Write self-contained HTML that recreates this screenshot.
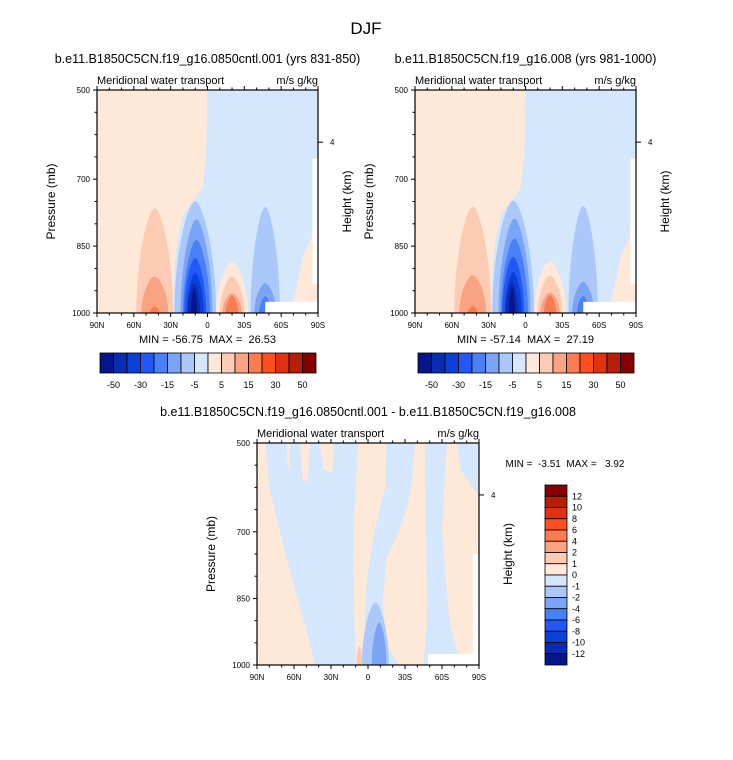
<!DOCTYPE html>
<html><head><meta charset="utf-8"><style>
body{margin:0;background:#fff;}
svg{display:block;font-family:"Liberation Sans",sans-serif;}
svg text{white-space:pre;}
</style></head><body>
<svg id="fig" width="733" height="760" viewBox="0 0 733 760">
<text x="366" y="34" font-size="17" text-anchor="middle">DJF</text>
</svg>
<script>
// ---- data ----
const colors = ['#06168a','#0a2cb0','#0a40d8','#2358f8','#4a80f5','#7ba4f6','#abc8fa','#d5e7fc','#fee8d8','#fdcbb4','#f9a383','#fb7c4f','#fc4e1f','#e03212','#b51f08','#850000'];
const xTickLats = [90,60,30,0,-30,-60,-90];
const xTickLabels = ['90N','60N','30N','0','30S','60S','90S'];
const yTickPs = [500,700,850,1000];
const cbLabelsTop = ['-50','-30','-15','-5','5','15','30','50'];
const cbLabelsDiff = ['12','10','8','6','4','2','1','0','-1','-2','-4','-6','-8','-10','-12'];
const fullOrangeBg = [[90,500],[0,500],[1,650],[4,720],[12,750],[20,780],[24,830],[27,900],[28,1000],[90,1000]];
const fullOrangeRight = [[-90,650],[-88,650],[-85,830],[-78,870],[-72,950],[-67,1000],[-90,1000]];
// domes: [centerLat, topPressure, halfWidthDeg, level]
const domesA = [[43,765,15,9],[43,918,11,10],[43,985,4,11],
 [10,750,17,6],[9,790,13,5],[9,836,11,4],[10,877,9,3],[10,911,7,2],[11,933,5,1],[11,945,2.5,0],
 [-20,885,13,8],[-20,918,10,9],[-20,956,8,10],[-20,962,5,11],
 [-47,762,12,6],[-47,933,9,5],[-47,963,5,4]];
const domesB = [[43,762,15,9],[43,915,11,10],[43,984,4,11],
 [10,748,17,6],[9,788,13,5],[9,833,11,4],[10,874,9,3],[10,908,7,2],[11,930,5,1],[11,942,2.5,0],
 [-20,883,13,8],[-20,916,10,9],[-20,954,8,10],[-20,960,5,11],
 [-47,760,12,6],[-47,930,9,5],[-47,962,5,4]];
const diffOrange = [
 [[90,500],[83,500],[80,600],[72,694],[58,844],[50,919],[43,1000],[90,1000]],
 [[66,500],[63,500],[64,560],[65,555]],
 [[55,500],[47,500],[49,590],[53,580]],
 [[39,500],[27,500],[29,566],[36,560]],
 [[8,500],[-15,500],[-14,600],[-5,700],[0,790],[2,850],[3,950],[2,1000],[10,1000],[11,900],[12,770],[11,650],[9,550]],
 [[-38,500],[-46,500],[-47,700],[-48,900],[-45,1000],[-25,1000],[-14,950],[-12,850],[-15,760],[-25,700],[-32,640],[-36,580]],
 [[-64,500],[-72,500],[-75,560],[-90,620],[-90,1000],[-75,1000],[-66,900],[-63,800],[-60,700],[-62,600]]
];
const diffDomes = [[-6,859,11,6],[-9,904,6,5],[7,956,2.5,9]];

const NS='http://www.w3.org/2000/svg';
const svg=document.getElementById('fig');
function mk(tag,attrs,parent){const e=document.createElementNS(NS,tag);for(const k in attrs)e.setAttribute(k,attrs[k]);(parent||svg).appendChild(e);return e;}
function txt(x,y,s,size,anchor,parent,name,rot){const t=mk('text',{x:x,y:y,'font-size':size,'text-anchor':anchor||'start'},parent);if(rot)t.setAttribute('transform','rotate(-90 '+x+' '+y+')');t.textContent=s;


return t;}

function panel(id,x0,y0,w,h,opts){
  const xs=lat=>x0+(90-lat)/180*w;
  const ys=p=>y0+(p-500)/500*h;
  const g=mk('g',{});
  
  
  const cp=mk('clipPath',{id:'clip-'+id},g);
  mk('rect',{x:x0,y:y0,width:w,height:h},cp);
  const pg=mk('g',{'clip-path':'url(#clip-'+id+')'},g);
  
  
  mk('rect',{x:x0,y:y0,width:w,height:h,fill:colors[7]},pg);
  const poly=(pts,lvl)=>{const e=mk('polygon',{points:pts.map(q=>xs(q[0])+','+ys(q[1])).join(' '),fill:colors[lvl]},pg);
    
    };
  (opts.polys||[]).forEach(p=>poly(p,8));
  (opts.domes||[]).forEach(d=>{
    const cx=xs(d[0]), rx=xs(90-d[2])-xs(90), yb=ys(1000)+1, yt=ys(d[1]);
    const hh=yb-yt;
    const dstr='M'+(cx-rx)+','+yb+' C'+(cx-rx)+','+(yt+hh*0.45)+' '+(cx-rx*0.35)+','+yt+' '+cx+','+yt+
      ' C'+(cx+rx*0.35)+','+yt+' '+(cx+rx)+','+(yt+hh*0.45)+' '+(cx+rx)+','+yb+' Z';
    const e=mk('path',{d:dstr,fill:colors[d[3]]},pg);
    
    });
  (opts.white||[]).forEach(r=>{const e=mk('rect',{x:xs(r[0]),y:ys(r[2]),width:xs(r[1])-xs(r[0]),height:ys(r[3])-ys(r[2]),fill:'#fff'},pg);
    
    });
  const fr=mk('rect',{x:x0,y:y0,width:w,height:h,fill:'none',stroke:'#000','stroke-width':1.2},g);
  
  
  for(let lat=90;lat>=-90;lat-=10){const major=lat%30===0;const L=major?4:2.5;const x=xs(lat);
    mk('line',{x1:x,y1:y0+h,x2:x,y2:y0+h+L,stroke:'#000','stroke-width':1},g);
    mk('line',{x1:x,y1:y0,x2:x,y2:y0-L,stroke:'#000','stroke-width':1},g);}
  xTickLats.forEach((lat,i)=>txt(xs(lat),y0+h+15,xTickLabels[i],8,'middle',g,'x-tick-label'));
  for(let p=500;p<=1000;p+=50){const major=yTickPs.includes(p);const L=major?4:2.5;mk('line',{x1:x0,y1:ys(p),x2:x0-L,y2:ys(p),stroke:'#000','stroke-width':1},g);}
  yTickPs.forEach(p=>txt(x0-7,ys(p)+3,String(p),8,'end',g,'y-tick-label'));
  const y4=ys(617);
  mk('line',{x1:x0+w,y1:y4,x2:x0+w+5,y2:y4,stroke:'#000','stroke-width':1},g);
  txt(x0+w+12,y4+3,'4',8,'start',g,'height-tick-label');
  txt(x0-42,y0+h/2,'Pressure (mb)',12,'middle',g,'y-axis-title',true);
  txt(x0+w+33,y0+h/2,'Height (km)',12,'middle',g,'right-axis-title',true);
  txt(x0,y0-6,'Meridional water transport',11,'start',g,'plot-subtitle');
  txt(x0+w,y0-6,'m/s g/kg',11,'end',g,'units-label');
  txt(x0+w/2,y0-27,opts.title,12.5,'middle',g,'panel-title');
  if(opts.minmax) txt(x0+w/2,y0+h+30,opts.minmax,11,'middle',g,'min-max-label');
}
function hbar(x0,y0,w,h){
  const bw=w/16;const g=mk('g',{});
  
  
  colors.forEach((c,i)=>{const r=mk('rect',{x:x0+i*bw,y:y0,width:bw,height:h,fill:c,stroke:'#000','stroke-width':0.8},g);
    
    });
  cbLabelsTop.forEach((s,k)=>txt(x0+bw*(2*k+1),y0+h+15,s,9,'middle',g,'colorbar-label'));
}
function vbar(x0,y0,w,h){
  const bh=h/16;const g=mk('g',{});
  
  
  colors.slice().reverse().forEach((c,i)=>{const r=mk('rect',{x:x0,y:y0+i*bh,width:w,height:bh,fill:c,stroke:'#000','stroke-width':0.8},g);
    
    });
  cbLabelsDiff.forEach((s,k)=>txt(x0+w+5,y0+bh*(k+1)+3,s,9,'start',g,'colorbar-label'));
}
const W1=[[-85.5,-90,655,935],[-47,-90,975,1000]];
panel('panel-control',97,90,221,223,{polys:[fullOrangeBg,fullOrangeRight],domes:domesA,white:W1,title:'b.e11.B1850C5CN.f19_g16.0850cntl.001 (yrs 831-850)',minmax:'MIN = -56.75  MAX =  26.53'});
panel('panel-experiment',415,90,221,223,{polys:[fullOrangeBg,fullOrangeRight],domes:domesB,white:W1,title:'b.e11.B1850C5CN.f19_g16.008 (yrs 981-1000)',minmax:'MIN = -57.14  MAX =  27.19'});
hbar(100,353,216,20);
hbar(418,353,216,20);
panel('panel-difference',257,443,222,222,{polys:diffOrange,domes:diffDomes,white:[[-85,-90,750,1000],[-48.6,-90,975,1000]],title:'b.e11.B1850C5CN.f19_g16.0850cntl.001 - b.e11.B1850C5CN.f19_g16.008'});
txt(565,467,'MIN =  -3.51  MAX =   3.92',10,'middle',null,'diff-min-max-label');
vbar(545,485,22,180);
</script>
</body></html>
